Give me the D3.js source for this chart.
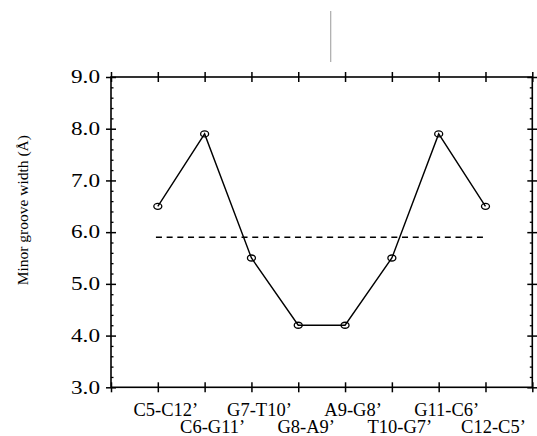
<!DOCTYPE html>
<html>
<head>
<meta charset="utf-8">
<script src="https://cdn.jsdelivr.net/npm/d3@7"></script>
<style>
  body { margin: 0; background: #fff; }
  svg { display: block; font-family: 'Liberation Serif', 'Times New Roman', serif; }
</style>
</head>
<body>
<svg id="chart" width="537" height="436"></svg>
<script>
// base-pair steps along the duplex
const steps = ["C5-C12\u2019", "C6-G11\u2019", "G7-T10\u2019", "G8-A9\u2019", "A9-G8\u2019", "T10-G7\u2019", "G11-C6\u2019", "C12-C5\u2019"]
const widths = [6.5, 7.9, 5.5, 4.2, 4.2, 5.5, 7.9, 6.5]
const meanWidth = 5.9
const yTicks = [3, 4, 5, 6, 7, 8, 9]
const xTicks = [0, 1, 2, 3, 4, 5, 6, 7, 8, 9]

const margin = { top: 77, right: 4.7, bottom: 48.7, left: 111 }
const width = 537
const height = 436

const svg = d3.select('#chart')

const xScale = d3.scaleLinear().domain([0, 9]).range([margin.left, width - margin.right])
const yScale = d3.scaleLinear().domain([3, 9]).range([height - margin.bottom, margin.top])

// stray mark at the top of the original scan
svg.append('line')
  .attr('x1', 330.7).attr('x2', 330.7)
  .attr('y1', 11).attr('y2', 62)
  .attr('stroke', '#aaa').attr('stroke-width', 1.2)

function crossTicks(g, horizontal) {
  g.select('.domain').remove()
  g.selectAll('.tick line')
    .attr(horizontal ? 'y1' : 'x1', -5)
    .attr(horizontal ? 'y2' : 'x2', 5)
    .attr('stroke', '#000')
    .attr('stroke-width', 1.5)
}

// top and bottom axes
const bottomAxis = svg.append('g')
  .attr('transform', `translate(0, ${yScale(3)})`)
  .call(d3.axisBottom(xScale).tickValues(xTicks).tickFormat(''))
crossTicks(bottomAxis, true)
const topAxis = svg.append('g')
  .attr('transform', `translate(0, ${yScale(9)})`)
  .call(d3.axisTop(xScale).tickValues(xTicks).tickFormat(''))
crossTicks(topAxis, true)

// minor ticks on the y axes
const minor = d3.range(3, 9.001, 0.2).filter((v) => Math.abs(v - Math.round(v)) > 0.01)
svg.append('g')
  .attr('transform', `translate(${xScale(0)}, 0)`)
  .call(d3.axisRight(yScale).tickValues(minor).tickSize(2.5).tickFormat(''))
  .call((g) => g.select('.domain').remove())
  .selectAll('line').attr('stroke-width', 1.3)
svg.append('g')
  .attr('transform', `translate(${xScale(9)}, 0)`)
  .call(d3.axisLeft(yScale).tickValues(minor).tickSize(2.5).tickFormat(''))
  .call((g) => g.select('.domain').remove())
  .selectAll('line').attr('stroke-width', 1.3)

// left and right axes
const leftAxis = svg.append('g')
  .attr('transform', `translate(${xScale(0)}, 0)`)
  .call(d3.axisLeft(yScale).tickValues(yTicks).tickFormat(d3.format('.1f')).tickPadding(7))
crossTicks(leftAxis, false)
leftAxis.selectAll('.tick text')
  .attr('x', -11)
  .attr('font-family', "'Liberation Serif', serif")
  .attr('font-size', '18px')
  .attr('fill', '#000')
  .attr('textLength', 29)
  .attr('lengthAdjust', 'spacingAndGlyphs')
const rightAxis = svg.append('g')
  .attr('transform', `translate(${xScale(9)}, 0)`)
  .call(d3.axisRight(yScale).tickValues(yTicks).tickFormat(''))
crossTicks(rightAxis, false)

// frame
svg.append('rect')
  .attr('x', xScale(0)).attr('y', yScale(9))
  .attr('width', xScale(9) - xScale(0)).attr('height', yScale(3) - yScale(9))
  .attr('fill', 'none').attr('stroke', '#000').attr('stroke-width', 1.6)

// category labels, staggered on two rows
svg.append('g').selectAll('text')
  .data(steps)
  .join('text')
  .attr('x', (d, i) => xScale(i + 1) + 8)
  .attr('y', (d, i) => (i % 2 === 0 ? 415.5 : 433))
  .attr('text-anchor', 'middle')
  .attr('font-size', '18.5px')
  .text((d) => d)

// y label
svg.append('text')
  .attr('transform', `translate(28, ${yScale(6) - 22}) rotate(-90)`)
  .attr('text-anchor', 'middle')
  .attr('font-size', '15.5px')
  .text('Minor groove width (\u00c5)')

// mean line
svg.append('line')
  .attr('x1', xScale(0.96)).attr('x2', xScale(7.96))
  .attr('y1', yScale(meanWidth)).attr('y2', yScale(meanWidth))
  .attr('stroke', '#000').attr('stroke-width', 1.4)
  .attr('stroke-dasharray', '6,4.7')

// groove width profile
const line = d3.line().x((d, i) => xScale(i + 1)).y((d) => yScale(d))
svg.append('path')
  .datum(widths)
  .attr('d', line)
  .attr('fill', 'none').attr('stroke', '#000').attr('stroke-width', 1.4)

svg.append('g').selectAll('ellipse')
  .data(widths)
  .join('ellipse')
  .attr('cx', (d, i) => xScale(i + 1))
  .attr('cy', (d) => yScale(d))
  .attr('rx', 4).attr('ry', 3)
  .attr('fill', 'none').attr('stroke', '#000').attr('stroke-width', 1.3)
</script>
</body>
</html>
